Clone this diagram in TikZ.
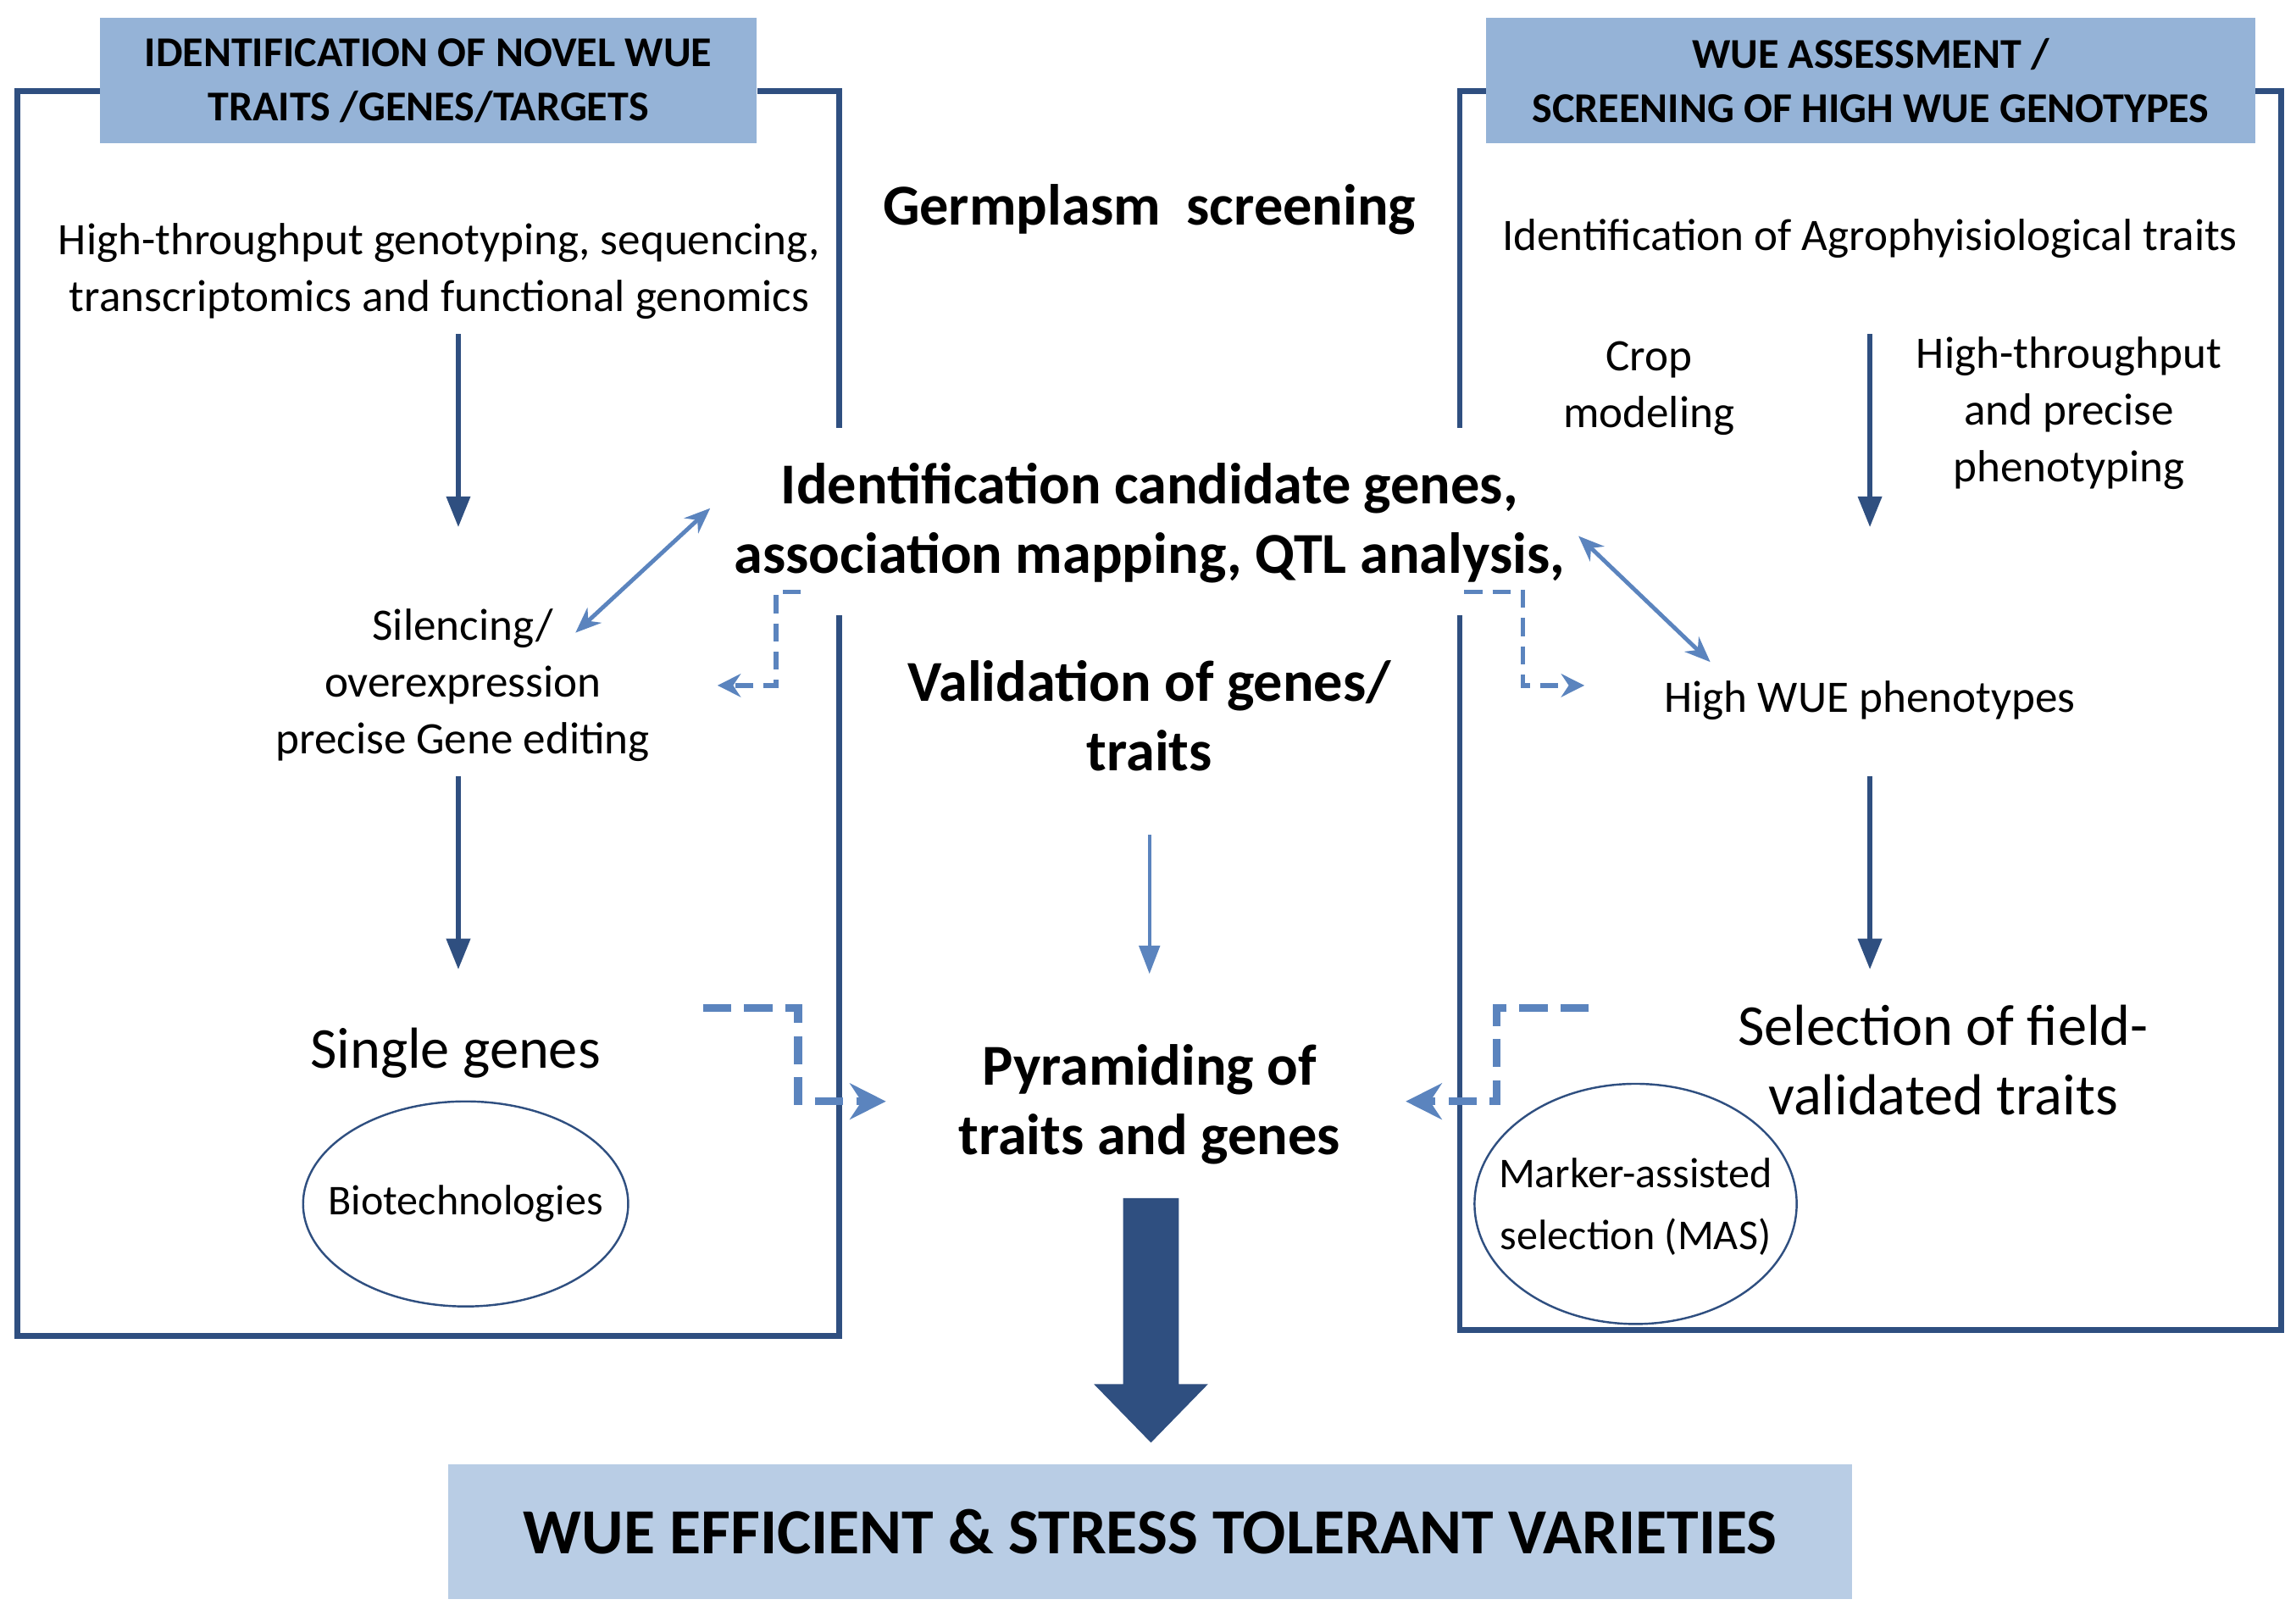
\documentclass[tikz,border=0pt]{standalone}
\usepackage{fontspec}
\setmainfont{Carlito}
\usetikzlibrary{arrows.meta,shapes.geometric}
\definecolor{dk}{HTML}{2F4F80}
\definecolor{md}{HTML}{5B84BE}
\definecolor{hd}{HTML}{95B3D7}
\definecolor{bt}{HTML}{B9CDE5}
\begin{document}
\begin{tikzpicture}[x=0.02cm,y=-0.02cm,
 frame/.style={draw=dk,line width=2.2pt},
 txt/.style={align=center,font=\fontsize{17.5}{22}\selectfont,inner sep=0pt},
 big/.style={align=center,font=\bfseries\fontsize{22.5}{27}\selectfont,inner sep=0pt},
 dk arrow/.style={draw=dk,line width=2pt,-{Triangle[length=12pt,width=9pt]}},
 lt arrow/.style={draw=md,line width=1.6pt,{Stealth[length=10pt,width=8pt]}-{Stealth[length=10pt,width=8pt]}},
 dash1/.style={draw=md,line width=1.8pt,dash pattern=on 7pt off 4pt,-{Stealth[length=9pt,width=9pt]}},
 dash2/.style={draw=md,line width=3pt,dash pattern=on 11pt off 5pt,-{Stealth[length=14pt,width=14pt]}},
 oval/.style={draw=dk,line width=0.8pt},
 hdr/.style={fill=hd,align=center,font=\bfseries\fontsize{16.5}{21}\selectfont,inner sep=0pt,minimum height=1.72cm}]
\useasboundingbox (0,0) rectangle (1568,1103);
% frames
\draw[frame] (68,62) -- (12,62) -- (12,912) -- (573,912) -- (573,420);
\draw[frame] (517,62) -- (573,62) -- (573,292);
\draw[frame] (1015,62) -- (997,62) -- (997,292);
\draw[frame] (997,420) -- (997,908) -- (1558,908) -- (1558,62) -- (1540,62);
\node[hdr,minimum width=8.98cm] (h1) at (292.5,55) {IDENTIFICATION OF NOVEL WUE\\TRAITS /GENES/TARGETS};
\node[hdr,minimum width=10.5cm] (h2) at (1277.5,55) {WUE ASSESSMENT /\\SCREENING OF HIGH WUE GENOTYPES};
% texts
\node[txt] (t1) at (300,185) {High-throughput genotyping, sequencing,\\transcriptomics and functional genomics};
\node[big] (gs) at (785,143) {Germplasm\ \ screening};
\node[txt] (t2) at (1277,163) {Identification of Agrophyisiological traits};
\node[txt] (cm) at (1126,265) {Crop\\modeling};
\node[txt] (hp) at (1413,282) {High-throughput\\and precise\\phenotyping};
\node[big] (ic) at (785,357) {Identification candidate genes,\\association mapping, QTL analysis,};
\node[txt] (si) at (316,468) {Silencing/\\overexpression\\precise Gene editing};
\node[big] (vg) at (785,489) {Validation of genes/\\traits};
\node[txt] (hw) at (1277,478) {High WUE phenotypes};
\node[txt,font=\fontsize{22.5}{27}\selectfont] (sg) at (311,719) {Single genes};
\node[big] (py) at (785,754) {Pyramiding of\\traits and genes};
\node[txt,font=\fontsize{22.5}{27}\selectfont] (sf) at (1327,724) {Selection of field-\\validated traits};
\draw[oval] (318,822) ellipse [x radius=111, y radius=70];
\node[txt,font=\fontsize{16.5}{20}\selectfont] (bio) at (318,822) {Biotechnologies};
\draw[oval] (1117,822) ellipse [x radius=110, y radius=82];
\node[txt,font=\fontsize{16.5}{24}\selectfont] (mas) at (1117,824) {Marker-assisted\\selection (MAS)};
\node[fill=bt,minimum width=19.18cm,minimum height=1.84cm,font=\bfseries\fontsize{25}{30}\selectfont,inner sep=0pt] (wue) at (785.5,1046) {WUE EFFICIENT \& STRESS TOLERANT VARIETIES};
% arrows
\coordinate (a1) at (313,228); \coordinate (a2) at (313,360);
\coordinate (a3) at (313,530); \coordinate (a4) at (313,662);
\coordinate (b1) at (1277,228); \coordinate (b2) at (1277,360);
\coordinate (b3) at (1277,530); \coordinate (b4) at (1277,662);
\draw[dk arrow] (a1) -- (a2);
\draw[dk arrow] (a3) -- (a4);
\draw[dk arrow] (b1) -- (b2);
\draw[dk arrow] (b3) -- (b4);
\draw[draw=md,line width=1.4pt,-{Triangle[length=11pt,width=8pt]}] (785,570) -- (785,665);
\draw[lt arrow] (393,432) -- (485,347);
\draw[lt arrow] (1078,366) -- (1168,452);
\draw[dash1] (547,404) -- (530,404) -- (530,468) -- (490,468);
\draw[dash1] (1000,404) -- (1040,404) -- (1040,468) -- (1082,468);
\draw[dash2] (480,688) -- (545,688) -- (545,752) -- (605,752);
\draw[dash2] (1085,688) -- (1022,688) -- (1022,752) -- (960,752);
\fill[dk] (767,818) -- (805,818) -- (805,945) -- (825,945) -- (786,985) -- (747,945) -- (767,945) -- cycle;
\end{tikzpicture}
\end{document}
